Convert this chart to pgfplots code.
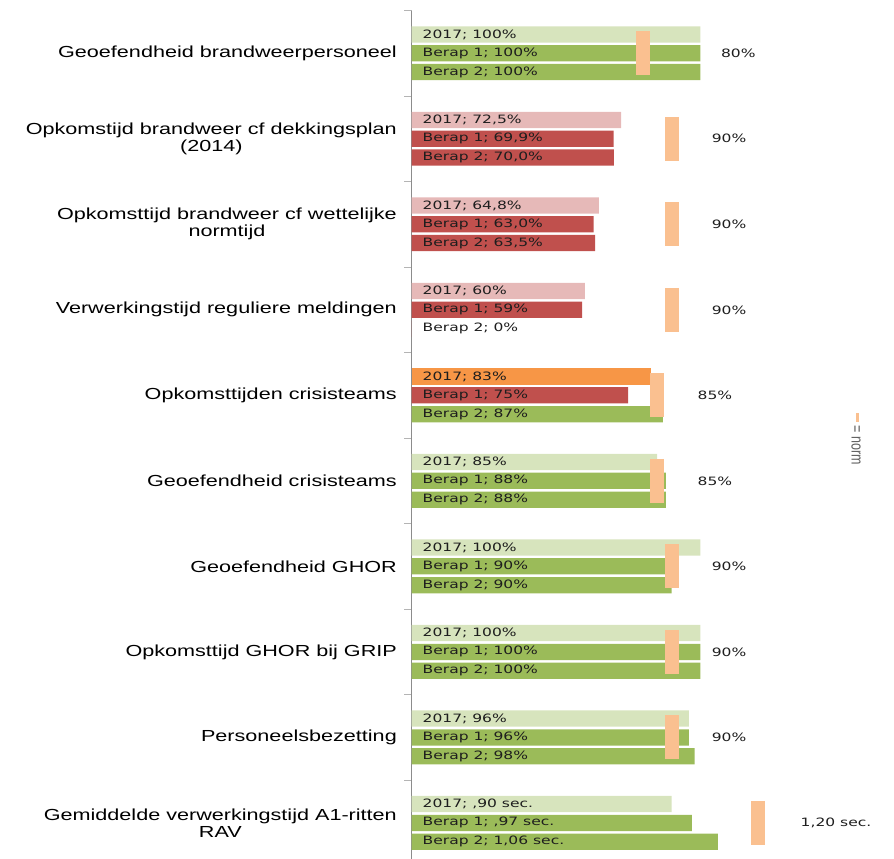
\documentclass[border=0pt]{standalone}
\usepackage{fontspec}
\usepackage{graphicx}
\usepackage{pgfplots}
\pgfplotsset{compat=1.18}

% the reference is stretched sideways, so the fonts are too
\newfontfamily\catfont[FakeStretch=1.35]{Liberation Sans}
\newfontfamily\barfont[FakeStretch=1.35]{DejaVu Sans}
\newfontfamily\legfont{Liberation Sans}

% a plain ; breaks the point list of pgfplots
\protected\def\sc{;}

\definecolor{lgreen}{HTML}{D7E4BD}
\definecolor{dgreen}{HTML}{9BBB59}
\definecolor{lred}{HTML}{E6B9B8}
\definecolor{dred}{HTML}{C0504D}
\definecolor{orange17}{HTML}{F79646}
\definecolor{normc}{HTML}{FAC090}
\definecolor{axisgray}{HTML}{8C8C8C}
\definecolor{tickgray}{HTML}{B4B4B4}
\definecolor{labelc}{HTML}{1E1E1E}
\definecolor{leggray}{HTML}{606060}

\begin{document}
\begin{tikzpicture}[x=1pt,y=1pt]
\useasboundingbox (0,0) rectangle (894,859);
\begin{axis}[
  at={(411.5pt,0pt)}, anchor=south west,
  scale only axis, width=482.5pt, height=848.5pt,
  xmin=0, xmax=166.96,
  ymin=-0.5, ymax=9.422, y dir=reverse,
  axis x line=none,
  axis y line*=left,
  y axis line style={draw=axisgray, line width=1.2pt},
  xtick=\empty,
  ytick={0,...,9},
  yticklabels={
    Geoefendheid brandweerpersoneel,
    Opkomstijd brandweer cf dekkingsplan\\(2014),
    Opkomsttijd brandweer cf wettelijke\\normtijd,
    Verwerkingstijd reguliere meldingen,
    Opkomsttijden crisisteams,
    Geoefendheid crisisteams,
    Geoefendheid GHOR,
    Opkomsttijd GHOR bij GRIP,
    Personeelsbezetting,
    Gemiddelde verwerkingstijd A1-ritten\\RAV},
  major tick length=0pt,
  minor ytick={-0.5,0.5,...,8.5},
  minor tick length=7pt,
  tick align=outside,
  tick style={draw=tickgray, line width=1pt},
  yticklabel style={font=\catfont\fontsize{16}{17}\selectfont, align=center,
    anchor=east, inner sep=0pt, xshift=-14.5pt, text=black},
  clip=false,
]

% 2017
\addplot[xbar, bar width=0.19, bar shift=0pt, fill=lgreen, draw=none]
  coordinates {(100,-0.22) (85,4.78) (100,5.78) (100,6.78) (96,7.78) (90,8.78)};
\addplot[xbar, bar width=0.19, bar shift=0pt, fill=lred, draw=none]
  coordinates {(72.5,0.78) (64.8,1.78) (60,2.78)};
\addplot[xbar, bar width=0.19, bar shift=0pt, fill=orange17, draw=none]
  coordinates {(83,3.78)};

% Berap 1
\addplot[xbar, bar width=0.19, bar shift=0pt, fill=dgreen, draw=none]
  coordinates {(100,0) (88,5) (90,6) (100,7) (96,8) (97,9)};
\addplot[xbar, bar width=0.19, bar shift=0pt, fill=dred, draw=none]
  coordinates {(69.9,1) (63.0,2) (59,3) (75,4)};

% Berap 2
\addplot[xbar, bar width=0.19, bar shift=0pt, fill=dgreen, draw=none]
  coordinates {(100,0.22) (87,4.22) (88,5.22) (90,6.22) (100,7.22) (98,8.22) (106,9.22)};
\addplot[xbar, bar width=0.19, bar shift=0pt, fill=dred, draw=none]
  coordinates {(70.0,1.22) (63.5,2.22) (0,3.22)};

% norm markers
\addplot[draw=normc, line width=14pt, line cap=butt, unbounded coords=jump]
  coordinates {
    (80,-0.257) (80,0.257) (nan,nan)
    (90,0.743) (90,1.257) (nan,nan)
    (90,1.743) (90,2.257) (nan,nan)
    (90,2.743) (90,3.257) (nan,nan)
    (85,3.743) (85,4.257) (nan,nan)
    (85,4.743) (85,5.257) (nan,nan)
    (90,5.743) (90,6.257) (nan,nan)
    (90,6.743) (90,7.257) (nan,nan)
    (90,7.743) (90,8.257) (nan,nan)
    (120,8.743) (120,9.257)};

% bar labels
\addplot[draw=none, nodes near coords, point meta=explicit symbolic,
  nodes near coords align={west},
  nodes near coords style={anchor=west, xshift=11pt, inner sep=0pt,
    font=\barfont\fontsize{11.5}{12}\selectfont, text=labelc}]
  coordinates {
    (0,-0.22) [2017\sc{} 100\%] (0,0) [Berap 1\sc{} 100\%] (0,0.22) [Berap 2\sc{} 100\%]
    (0,0.78) [2017\sc{} 72,5\%] (0,1) [Berap 1\sc{} 69,9\%] (0,1.22) [Berap 2\sc{} 70,0\%]
    (0,1.78) [2017\sc{} 64,8\%] (0,2) [Berap 1\sc{} 63,0\%] (0,2.22) [Berap 2\sc{} 63,5\%]
    (0,2.78) [2017\sc{} 60\%] (0,3) [Berap 1\sc{} 59\%] (0,3.22) [Berap 2\sc{} 0\%]
    (0,3.78) [2017\sc{} 83\%] (0,4) [Berap 1\sc{} 75\%] (0,4.22) [Berap 2\sc{} 87\%]
    (0,4.78) [2017\sc{} 85\%] (0,5) [Berap 1\sc{} 88\%] (0,5.22) [Berap 2\sc{} 88\%]
    (0,5.78) [2017\sc{} 100\%] (0,6) [Berap 1\sc{} 90\%] (0,6.22) [Berap 2\sc{} 90\%]
    (0,6.78) [2017\sc{} 100\%] (0,7) [Berap 1\sc{} 100\%] (0,7.22) [Berap 2\sc{} 100\%]
    (0,7.78) [2017\sc{} 96\%] (0,8) [Berap 1\sc{} 96\%] (0,8.22) [Berap 2\sc{} 98\%]
    (0,8.78) [2017\sc{} ,90 sec.] (0,9) [Berap 1\sc{} ,97 sec.] (0,9.22) [Berap 2\sc{} 1,06 sec.]};

% norm values
\addplot[draw=none, nodes near coords, point meta=explicit symbolic,
  nodes near coords align={center},
  nodes near coords style={anchor=center, inner sep=0pt,
    font=\barfont\fontsize{11.5}{12}\selectfont, text=labelc}]
  coordinates {
    (113.1,0) [80\%] (109.9,1) [90\%] (109.9,2) [90\%] (109.9,3) [90\%]
    (105.0,4) [85\%] (105.0,5) [85\%] (109.9,6) [90\%] (109.9,7) [90\%]
    (109.9,8) [90\%] (146.9,9) [1,20 sec.]};

% legend
\node[anchor=west, rotate=-90, inner sep=0pt, text=leggray]
  at (axis cs:153.8,4.206)
  {\scalebox{1}[1.35]{\legfont\fontsize{12.5}{13}\selectfont
   \textcolor{normc}{\rule[0.28em]{9pt}{2pt}}\ = norm}};
\end{axis}
\end{tikzpicture}
\end{document}
